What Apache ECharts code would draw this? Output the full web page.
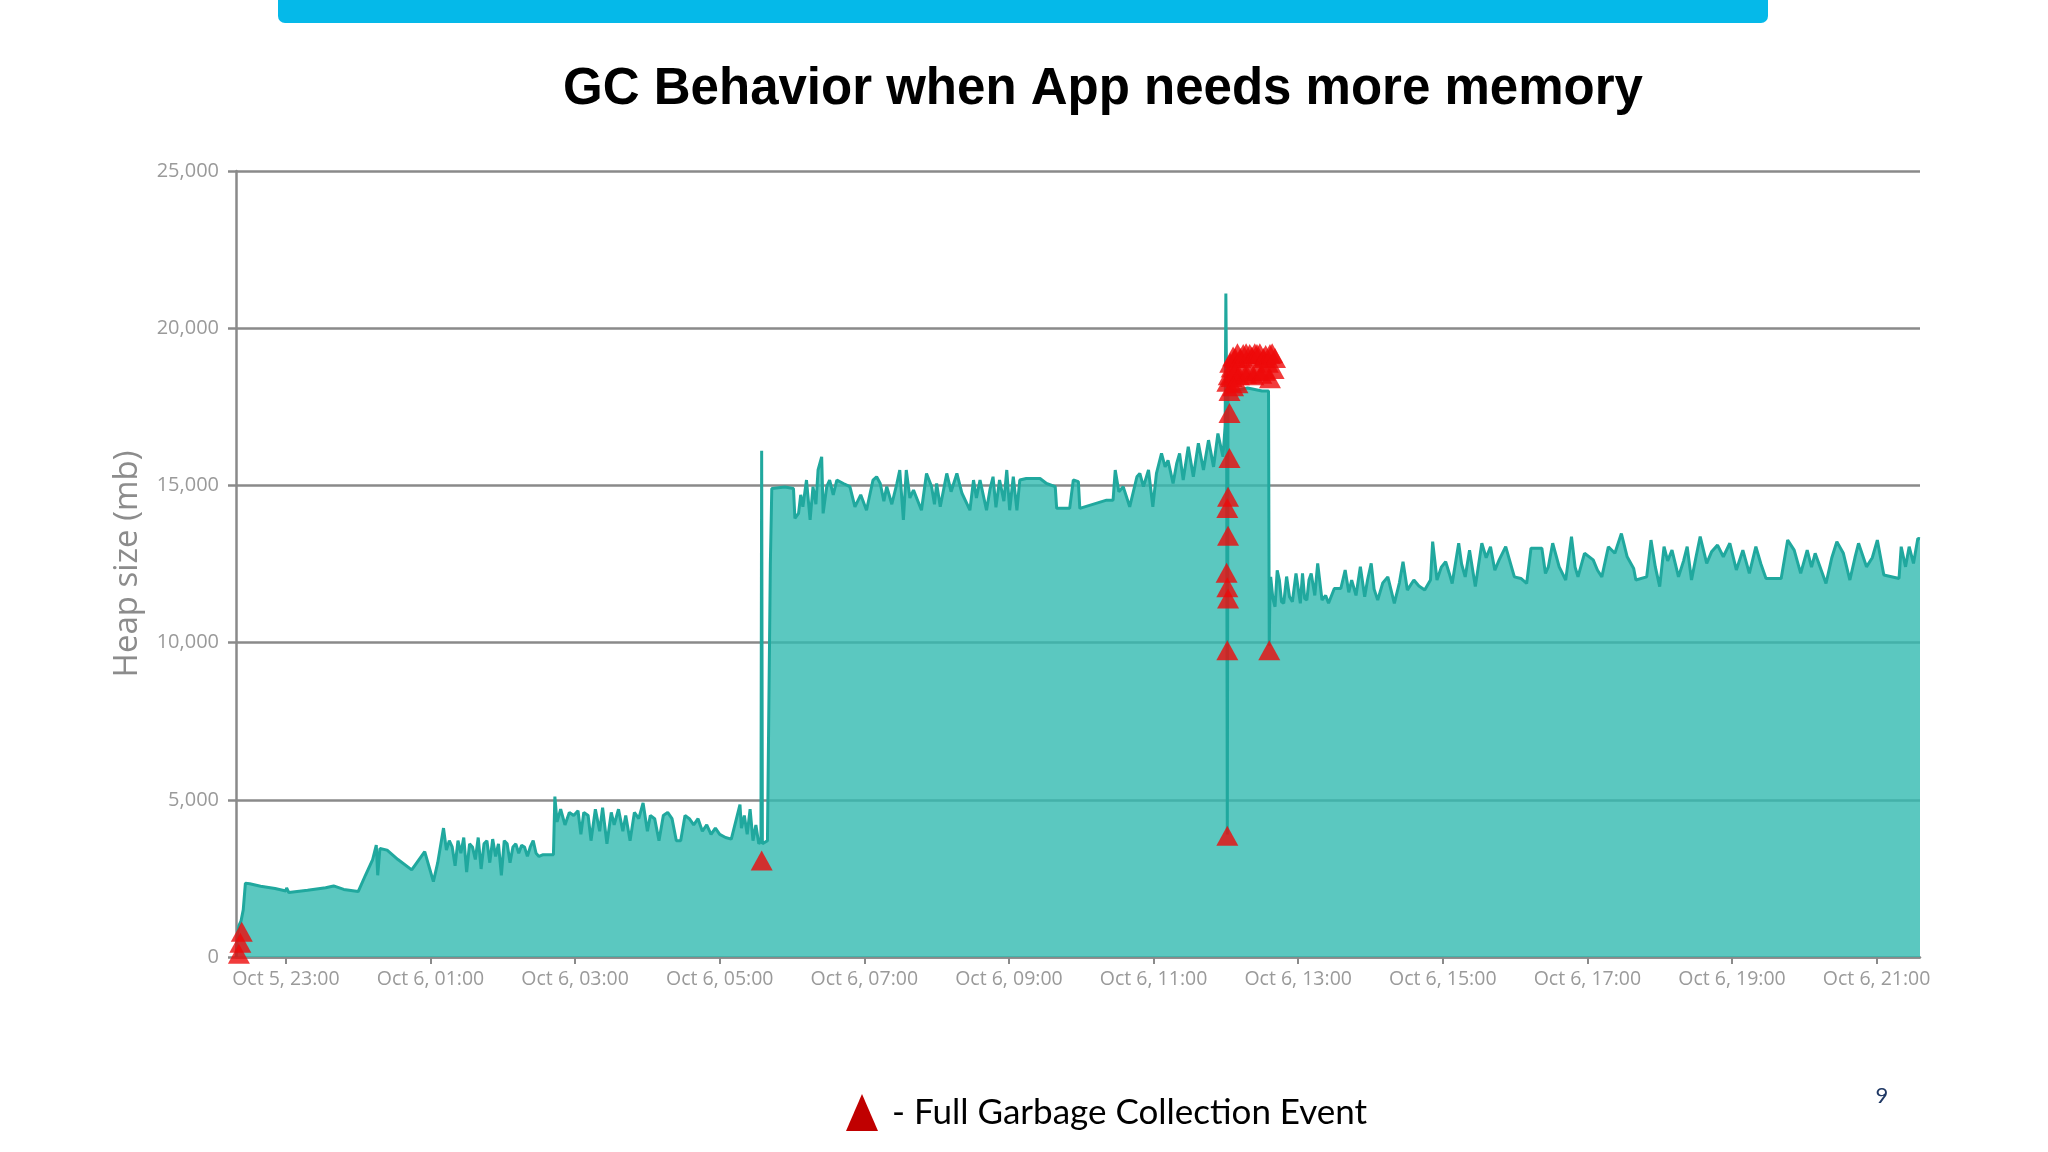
<!DOCTYPE html>
<html>
<head>
<meta charset="utf-8">
<script src="https://cdn.jsdelivr.net/npm/echarts@6/dist/echarts.min.js"></script>
<style>
html,body{margin:0;padding:0;background:#fff;}
#chart{width:2048px;height:1152px;}
</style>
</head>
<body>
<div id="chart"></div>
<script>
// ---- data (x = hours after Oct 5, 23:00; y = heap size in MB) ----
const titleText = 'GC Behavior when App needs more memory';
const yAxisName = 'Heap size (mb)';
const legendText = '- Full Garbage Collection Event';
const pageNumber = '9';

const tickHours = [0, 2, 4, 6, 8, 10, 12, 14, 16, 18, 20, 22];
const tickLabels = ['Oct 5, 23:00', 'Oct 6, 01:00', 'Oct 6, 03:00', 'Oct 6, 05:00', 'Oct 6, 07:00', 'Oct 6, 09:00',
  'Oct 6, 11:00', 'Oct 6, 13:00', 'Oct 6, 15:00', 'Oct 6, 17:00', 'Oct 6, 19:00', 'Oct 6, 21:00'];
const xRange = [-0.69, 22.6];
const yTicks = [0, 5000, 10000, 15000, 20000, 25000];

const heapEarly = [
  [-0.69, 0], [-0.67, 700], [-0.65, 1000], [-0.62, 1150], [-0.59, 1500], [-0.56, 2350], [-0.50, 2330],
  [-0.35, 2250], [-0.15, 2180], [0.0, 2100], [0.01, 2200], [0.04, 2050], [0.30, 2120], [0.55, 2200],
  [0.66, 2260], [0.80, 2150], [1.00, 2080], [1.10, 2600], [1.20, 3100], [1.25, 3560], [1.27, 2600],
  [1.30, 3450], [1.40, 3400], [1.55, 3100], [1.74, 2770], [1.92, 3350], [2.04, 2400], [2.10, 3000],
  [2.18, 4100], [2.22, 3400], [2.26, 3700], [2.30, 3500], [2.34, 2900], [2.38, 3700], [2.42, 3300],
  [2.46, 3800], [2.50, 2700], [2.54, 3600], [2.58, 3500], [2.62, 3100], [2.66, 3800], [2.70, 2800],
  [2.74, 3600], [2.78, 3700], [2.82, 3000], [2.86, 3750], [2.90, 3200], [2.94, 3600], [2.98, 2600],
  [3.02, 3700], [3.06, 3600], [3.10, 3000], [3.14, 3500], [3.18, 3600], [3.22, 3300], [3.26, 3550],
  [3.30, 3500], [3.34, 3200], [3.38, 3500], [3.42, 3700], [3.46, 3300], [3.50, 3200], [3.55, 3250],
  [3.70, 3250], [3.72, 5100], [3.75, 4300], [3.80, 4700], [3.86, 4200], [3.92, 4600], [3.98, 4500],
  [4.04, 4650], [4.08, 3900], [4.12, 4600], [4.18, 4500], [4.22, 3700], [4.28, 4700], [4.34, 4000],
  [4.38, 4750], [4.44, 3600], [4.50, 4600], [4.54, 4200], [4.60, 4700], [4.66, 4000], [4.70, 4500],
  [4.76, 3700], [4.82, 4600], [4.88, 4400], [4.94, 4900], [5.00, 4000], [5.04, 4500], [5.10, 4400],
  [5.16, 3700], [5.22, 4500], [5.28, 4600], [5.34, 4400], [5.40, 3700], [5.46, 3700], [5.52, 4500],
  [5.58, 4400], [5.64, 4200], [5.70, 4400], [5.76, 4000], [5.82, 4200], [5.88, 3900], [5.94, 4100],
  [6.00, 3900], [6.08, 3800], [6.16, 3750], [6.22, 4300], [6.28, 4850], [6.30, 4100], [6.34, 4500],
  [6.38, 3900], [6.42, 4700], [6.46, 3700], [6.50, 4200], [6.54, 3600], [6.57, 3700]
];

const heapMiddle = [
  [6.58, 16100], [6.59, 3600], [6.66, 3700], [6.70, 12500], [6.72, 14900], [6.74, 14904], [6.90, 14950],
  [7.02, 14900], [7.04, 13950], [7.09, 14110], [7.12, 14700], [7.15, 14320], [7.20, 15170], [7.25, 13900],
  [7.29, 14960], [7.33, 14400], [7.36, 15490], [7.41, 15910], [7.43, 14110], [7.48, 14960], [7.52, 15170],
  [7.57, 14700], [7.62, 15170], [7.71, 15060], [7.80, 14960], [7.87, 14320], [7.95, 14700], [8.03, 14210],
  [8.12, 15170], [8.17, 15275], [8.22, 15060], [8.27, 14500], [8.31, 14960], [8.38, 14400], [8.45, 15060],
  [8.49, 15490], [8.54, 13900], [8.58, 15490], [8.63, 14600], [8.68, 14850], [8.79, 14210], [8.86, 15380],
  [8.93, 14960], [8.97, 14400], [9.00, 15060], [9.05, 14320], [9.14, 15380], [9.20, 14800], [9.28, 15380],
  [9.35, 14750], [9.46, 14210], [9.51, 15170], [9.55, 14600], [9.60, 15170], [9.69, 14210], [9.74, 14900],
  [9.78, 15275], [9.82, 14300], [9.87, 15170], [9.93, 14500], [9.97, 15490], [10.01, 14210], [10.06, 15275],
  [10.11, 14210], [10.15, 15170], [10.24, 15220], [10.43, 15220], [10.52, 15060], [10.64, 14960],
  [10.66, 14270], [10.84, 14270], [10.89, 15170], [10.96, 15120], [10.98, 14270], [11.35, 14530],
  [11.44, 14530], [11.47, 15490], [11.52, 14800], [11.58, 14960], [11.67, 14320], [11.77, 15275],
  [11.81, 15380], [11.86, 14960], [11.93, 15490], [11.99, 14320], [12.04, 15380], [12.11, 16020],
  [12.16, 15590], [12.20, 15800], [12.27, 15060], [12.32, 15700], [12.36, 16020], [12.41, 15170],
  [12.48, 16230], [12.55, 15275], [12.62, 16340], [12.69, 15490], [12.76, 16440], [12.83, 15590],
  [12.89, 16650], [12.96, 15910], [12.99, 16900]
];

const heapLate = [
  [13.00, 21100], [13.01, 18000], [13.02, 3900], [13.03, 18100], [13.10, 18000], [13.30, 18100],
  [13.50, 18000], [13.59, 18000], [13.60, 9900], [13.61, 11600], [13.62, 12090], [13.65, 11400],
  [13.68, 11140], [13.71, 12300], [13.74, 11990], [13.77, 11300], [13.80, 11250], [13.84, 12100],
  [13.88, 11460], [13.92, 11300], [13.97, 12200], [14.03, 11250], [14.06, 12200], [14.09, 11400],
  [14.12, 11350], [14.15, 12000], [14.18, 12200], [14.23, 11500], [14.27, 12520], [14.33, 11350],
  [14.38, 11500], [14.42, 11250], [14.50, 11720], [14.59, 11720], [14.65, 12310], [14.70, 11600],
  [14.74, 11990], [14.80, 11500], [14.86, 12410], [14.92, 11460], [14.96, 12000], [15.01, 12520],
  [15.05, 11700], [15.10, 11350], [15.17, 11900], [15.24, 12090], [15.33, 11250], [15.40, 11900],
  [15.45, 12570], [15.51, 11670], [15.60, 11990], [15.67, 11800], [15.75, 11670], [15.83, 11990],
  [15.86, 13210], [15.92, 11990], [15.98, 12400], [16.04, 12570], [16.09, 12200], [16.13, 11880],
  [16.22, 13160], [16.26, 12500], [16.31, 12090], [16.37, 12940], [16.45, 11780], [16.54, 13160],
  [16.60, 12700], [16.66, 13050], [16.72, 12300], [16.78, 12630], [16.87, 13050], [16.99, 12090],
  [17.08, 12040], [17.16, 11880], [17.22, 13000], [17.37, 13000], [17.42, 12200], [17.46, 12410],
  [17.52, 13160], [17.61, 12410], [17.70, 11990], [17.78, 13370], [17.83, 12400], [17.87, 12090],
  [17.96, 12840], [18.08, 12630], [18.14, 12300], [18.20, 12090], [18.29, 13050], [18.38, 12840],
  [18.47, 13470], [18.55, 12730], [18.64, 12360], [18.67, 11990], [18.82, 12090], [18.88, 13260],
  [18.94, 12400], [19.00, 11780], [19.06, 13050], [19.11, 12600], [19.17, 12940], [19.26, 12090],
  [19.33, 12600], [19.38, 13050], [19.44, 11990], [19.50, 12700], [19.56, 13370], [19.65, 12520],
  [19.72, 12900], [19.80, 13100], [19.88, 12730], [19.97, 13160], [20.06, 12310], [20.15, 12940],
  [20.24, 12200], [20.33, 13050], [20.40, 12500], [20.47, 12040], [20.68, 12040], [20.77, 13260],
  [20.86, 12940], [20.95, 12200], [21.04, 12940], [21.10, 12400], [21.15, 12840], [21.30, 11880],
  [21.38, 12700], [21.45, 13210], [21.54, 12840], [21.63, 11990], [21.70, 12700], [21.75, 13160],
  [21.86, 12410], [21.94, 12700], [22.01, 13260], [22.10, 12150], [22.31, 12040], [22.34, 13050],
  [22.40, 12410], [22.45, 13050], [22.51, 12520], [22.57, 13310], [22.60, 13300]
];

const gcEvents = [
  [-0.65, 100], [-0.63, 450], [-0.61, 800], [6.58, 3070],
  [13.02, 3860], [13.02, 9760], [13.03, 11400], [13.02, 11760], [13.01, 12220], [13.03, 13400],
  [13.02, 14280], [13.03, 14640], [13.05, 15870], [13.05, 17300], [13.05, 18000], [13.02, 18300],
  [13.04, 18500], [13.06, 18900], [13.08, 18750], [13.10, 19100], [13.13, 19050], [13.16, 19200],
  [13.20, 19050], [13.24, 19180], [13.28, 19200], [13.33, 19180], [13.36, 19100], [13.40, 19200],
  [13.43, 19180], [13.47, 19200], [13.52, 19050], [13.55, 19150], [13.58, 18900], [13.61, 19180],
  [13.64, 19200], [13.66, 18700], [13.68, 19050], [13.61, 18410], [13.60, 9760],
  [13.08, 18450], [13.13, 18600], [13.18, 18500], [13.23, 18650], [13.28, 18550], [13.33, 18650],
  [13.38, 18500], [13.44, 18650], [13.49, 18550], [13.54, 18650], [13.10, 18150], [13.16, 18250]
];

const heapSeries = heapEarly.concat(heapMiddle, heapLate);

const chart = echarts.init(document.getElementById('chart'));
const gridColor = '#8a8a8a';
const labelColor = '#9a9a9a';

chart.setOption({
  backgroundColor: '#ffffff',
  animation: false,
  grid: { left: 236, right: 128, top: 171, bottom: 195, containLabel: false },
  xAxis: {
    type: 'value',
    min: xRange[0],
    max: xRange[1],
    axisLine: { show: true, onZero: false, lineStyle: { color: gridColor, width: 2.5 } },
    axisTick: { show: true, customValues: tickHours, length: 7, lineStyle: { color: gridColor, width: 2 } },
    axisLabel: {
      customValues: tickHours,
      color: labelColor,
      fontFamily: 'Open Sans',
      fontSize: 19.5,
      margin: 12,
      formatter: function (v) {
        const i = tickHours.indexOf(Math.round(v));
        return i >= 0 ? tickLabels[i] : '';
      }
    },
    splitLine: { show: false }
  },
  yAxis: {
    type: 'value',
    min: yTicks[0],
    max: yTicks[yTicks.length - 1],
    interval: 5000,
    name: yAxisName,
    nameLocation: 'middle',
    nameGap: 92,
    nameTextStyle: { color: '#8c8c8c', fontFamily: 'Open Sans', fontSize: 33 },
    axisLine: { show: true, onZero: false, lineStyle: { color: gridColor, width: 2.5 } },
    axisTick: { show: true, length: 8, lineStyle: { color: gridColor, width: 2.5 } },
    axisLabel: {
      color: labelColor,
      fontFamily: 'Open Sans',
      fontSize: 20,
      margin: 17,
      formatter: function (v) { return v.toLocaleString('en-US'); }
    },
    splitLine: { show: true, lineStyle: { color: gridColor, width: 2.5 } }
  },
  series: [
    {
      type: 'line',
      data: heapSeries,
      symbol: 'none',
      smooth: false,
      lineStyle: { color: '#20a89e', width: 3 },
      areaStyle: { color: '#32bab0', opacity: 0.8 },
      z: 2
    },
    {
      type: 'scatter',
      data: gcEvents,
      symbol: 'triangle',
      symbolSize: [22, 20],
      itemStyle: { color: '#ee0a0a' },
      z: 5
    }
  ],
  graphic: [
    {
      type: 'rect',
      shape: { x: 278, y: -12, width: 1490, height: 35, r: 7 },
      style: { fill: '#05b9e9' }
    },
    {
      type: 'text',
      x: 1103, y: 90,
      style: {
        text: titleText,
        fill: '#000000',
        font: 'bold 51px "Liberation Sans", Arial, sans-serif',
        textAlign: 'center',
        textVerticalAlign: 'middle'
      }
    },
    {
      type: 'polygon',
      shape: { points: [[846, 1131], [862, 1094], [878, 1131]] },
      style: { fill: '#c00000' }
    },
    {
      type: 'text',
      x: 892, y: 1113,
      style: {
        text: legendText,
        fill: '#000000',
        font: '35px Lato, "Open Sans", sans-serif',
        textAlign: 'left',
        textVerticalAlign: 'middle'
      }
    },
    {
      type: 'text',
      x: 1882, y: 1096,
      style: {
        text: pageNumber,
        fill: '#1f3864',
        font: '22px Lato, sans-serif',
        textAlign: 'center',
        textVerticalAlign: 'middle'
      }
    }
  ]
});
</script>
</body>
</html>
